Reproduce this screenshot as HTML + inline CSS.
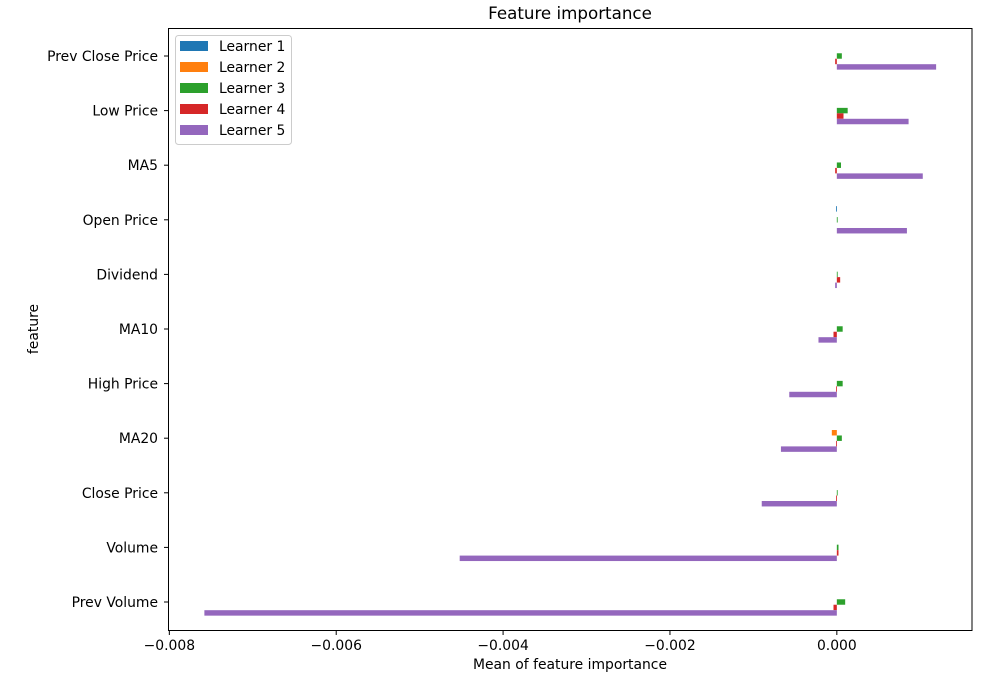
<!DOCTYPE html>
<html><head><meta charset="utf-8"><style>
body{margin:0;background:#fff;}
svg{display:block;font-family:"DejaVu Sans","Liberation Sans",sans-serif;}
</style></head><body>
<svg id="chart" width="1000" height="700">
<rect x="0" y="0" width="1000" height="700" fill="#fff"/>
<g id="bars"></g>
<rect x="168.5" y="28.5" width="803.5" height="602" fill="none" stroke="#000" stroke-width="1"/>
<g id="xticks"></g>
<g id="yticks"></g>
<text x="570" y="19" font-size="16.7" text-anchor="middle">Feature importance</text>
<text x="570" y="669" font-size="13.9" text-anchor="middle">Mean of feature importance</text>
<text transform="translate(38,329) rotate(-90)" font-size="13.9" text-anchor="middle">feature</text>
<g id="legend"></g>
</svg>
<script>
const categories=["Prev Close Price","Low Price","MA5","Open Price","Dividend","MA10","High Price","MA20","Close Price","Volume","Prev Volume"];
const seriesNames=["Learner 1","Learner 2","Learner 3","Learner 4","Learner 5"];
const learner1=[0,0,0,-0.00001,0,0,0,0,0,0,0];
const learner2=[0,0,0,0,0,0,0,-0.00006,0,0,0];
const learner3=[0.00006,0.00013,0.00005,0.00001,0.00001,0.00007,0.00007,0.00006,0.00001,0.00002,0.0001];
const learner4=[-0.00002,0.00008,-0.00002,0,0.00004,-0.00004,-0.00001,-0.00001,-0.00001,0.00002,-0.00004];
const learner5=[0.00119,0.00086,0.00103,0.00084,-0.00002,-0.00022,-0.00057,-0.00067,-0.0009,-0.00452,-0.00758];
const xTicks=[-0.008,-0.006,-0.004,-0.002,0.000];
const xTickLabels=["\u22120.008","\u22120.006","\u22120.004","\u22120.002","0.000"];
const colors=["#1f77b4","#ff7f0e","#2ca02c","#d62728","#9467bd"];
const series=[learner1,learner2,learner3,learner4,learner5];
const NS="http://www.w3.org/2000/svg";
const xMin=-0.00801,xMax=0.00162,pxL=168.5,pxR=972;
function xs(v){return pxL+(v-xMin)/(xMax-xMin)*(pxR-pxL);}
function ys(i){return 56+i*54.6;}
const bw=5.46;
function mk(tag,attrs,parent){const e=document.createElementNS(NS,tag);for(const k in attrs)e.setAttribute(k,attrs[k]);parent.appendChild(e);return e;}
const gb=document.getElementById('bars');
series.forEach((s,si)=>{s.forEach((v,ci)=>{
  const x0=xs(0),x1=xs(v);
  const r=mk('rect',{x:Math.min(x0,x1),y:ys(ci)-13.65+si*bw,width:Math.abs(x1-x0),height:bw,fill:colors[si]},gb);
  
  
});});
const gx=document.getElementById('xticks');
xTicks.forEach((t,i)=>{
  const x=xs(t);
  const l=mk('line',{x1:x,x2:x,y1:630.5,y2:635,stroke:'#000'},gx);
  
  
  const tx=mk('text',{x:x,y:650,'font-size':13.9,'text-anchor':'middle'},gx);
  tx.textContent=xTickLabels[i];
  
  
});
const gy=document.getElementById('yticks');
categories.forEach((c,i)=>{
  const y=ys(i);
  const l=mk('line',{x1:164,x2:168.5,y1:y,y2:y,stroke:'#000'},gy);
  
  
  const tx=mk('text',{x:158,y:y+5,'font-size':13.9,'text-anchor':'end'},gy);
  tx.textContent=c;
  
  
});
const gl=document.getElementById('legend');
const box=mk('rect',{x:175.5,y:35.5,width:116,height:109,rx:3,fill:'#fff',stroke:'#ccc'},gl);


seriesNames.forEach((nm,i)=>{
  const y=46+i*21;
  const r=mk('rect',{x:180,y:y-5,width:28,height:10,fill:colors[i]},gl);
  
  
  const t=mk('text',{x:219,y:y+5,'font-size':13.9},gl);
  t.textContent=nm;
  
  
});
</script>
</body></html>
